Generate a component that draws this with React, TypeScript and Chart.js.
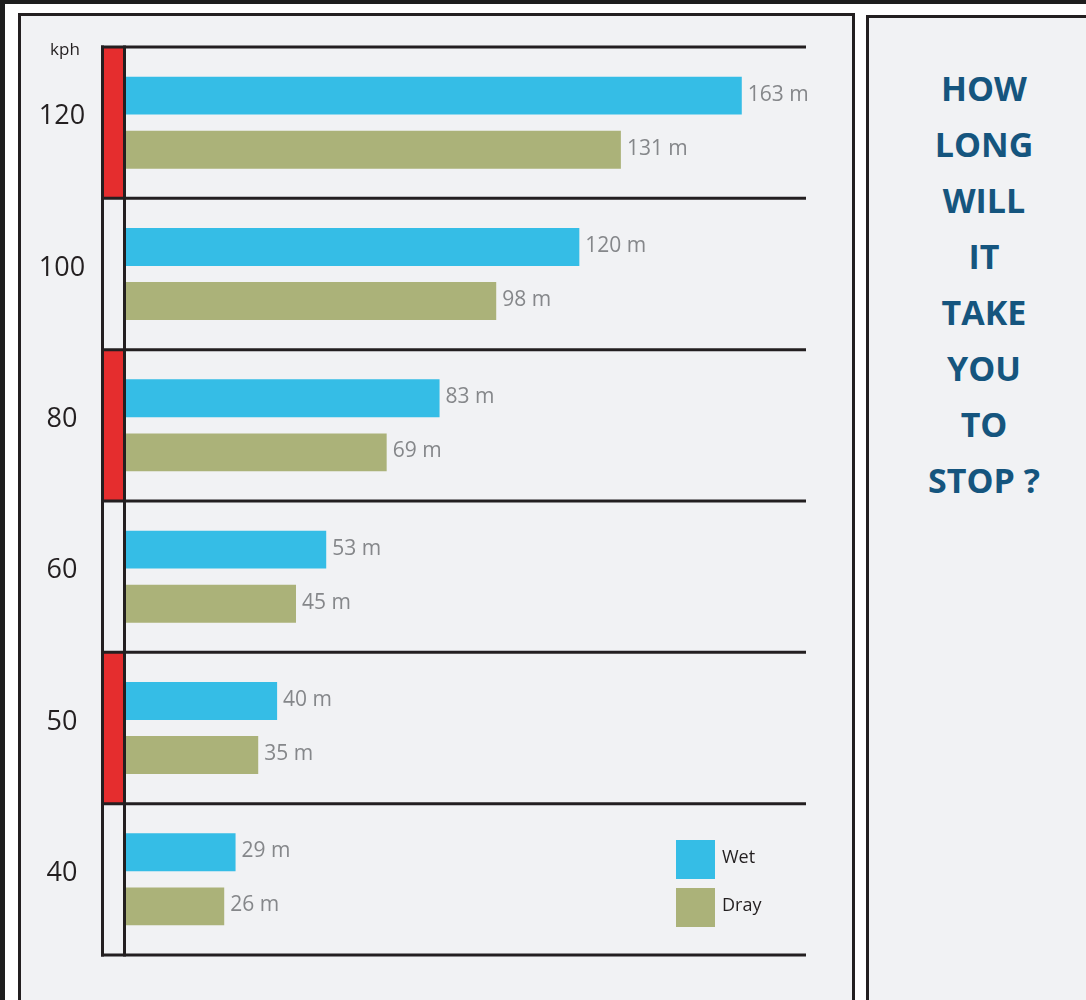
import React, { useEffect, useRef } from "react";
import { Chart, registerables } from "chart.js";

Chart.register(...registerables);

const speeds = ["120", "100", "80", "60", "50", "40"];
const wetDistances = [163, 120, 83, 53, 40, 29];
const dryDistances = [131, 98, 69, 45, 35, 26];
const seriesNames = ["Wet", "Dray"];
const redBands = [true, false, true, false, true, false];
const unitLabel = "kph";
const titleWords = ["HOW", "LONG", "WILL", "IT", "TAKE", "YOU", "TO", "STOP ?"];

const INK = "#231f20";
const WET = "#35bde6";
const DRY = "#abb279";
const RED = "#e52d2e";
const GREY = "#85878a";
const PANEL = "#f1f2f4";
const FONT = "'Open Sans', 'Noto Sans', sans-serif";

const decorPlugin = {
  id: "decor",
  beforeDatasetsDraw(chart: any) {
    const { ctx, chartArea } = chart;
    const y = chart.scales.y;
    const n = speeds.length;
    const colL = 101;
    const colR = chartArea.left;
    ctx.save();
    for (let i = 0; i < n; i++) {
      const c = y.getPixelForValue(i);
      const half = (chartArea.bottom - chartArea.top) / n / 2;
      ctx.fillStyle = redBands[i] ? RED : PANEL;
      ctx.fillRect(colL + 1, c - half, colR - colL - 2, half * 2);
    }
    ctx.strokeStyle = INK;
    ctx.lineWidth = 3;
    for (let i = 0; i <= n; i++) {
      const py = chartArea.top + ((chartArea.bottom - chartArea.top) * i) / n;
      ctx.beginPath();
      ctx.moveTo(colL, py);
      ctx.lineTo(chartArea.right, py);
      ctx.stroke();
    }
    ctx.beginPath();
    ctx.moveTo(colL + 1.5, chartArea.top - 1.5);
    ctx.lineTo(colL + 1.5, chartArea.bottom + 1.5);
    ctx.moveTo(colR - 1.5, chartArea.top - 1.5);
    ctx.lineTo(colR - 1.5, chartArea.bottom + 1.5);
    ctx.stroke();
    ctx.fillStyle = INK;
    ctx.textAlign = "center";
    ctx.textBaseline = "middle";
    ctx.font = `400 27px ${FONT}`;
    for (let i = 0; i < n; i++) {
      ctx.fillText(speeds[i], 62, y.getPixelForValue(i) - 6);
    }
    ctx.font = `400 17px ${FONT}`;
    ctx.fillText(unitLabel, 65, 50);
    ctx.restore();
  },
  afterDatasetsDraw(chart: any) {
    const { ctx } = chart;
    ctx.save();
    ctx.font = `400 21px ${FONT}`;
    ctx.fillStyle = GREY;
    ctx.textAlign = "left";
    ctx.textBaseline = "middle";
    chart.data.datasets.forEach((ds: any, di: number) => {
      const meta = chart.getDatasetMeta(di);
      meta.data.forEach((el: any, i: number) => {
        ctx.fillText(`${ds.data[i]} m`, el.x + 6, el.y - 1);
      });
    });
    chart.data.datasets.forEach((ds: any, di: number) => {
      const top = 840 + di * 48;
      ctx.fillStyle = ds.backgroundColor;
      ctx.fillRect(676, top, 39, 39);
      ctx.fillStyle = INK;
      ctx.font = `400 18px ${FONT}`;
      ctx.fillText(ds.label, 722, top + 18);
    });
    ctx.restore();
  },
};

function StoppingChart() {
  const ref = useRef<HTMLCanvasElement | null>(null);
  useEffect(() => {
    if (!ref.current) return;
    const chart = new Chart(ref.current, {
      type: "bar",
      data: {
        labels: speeds,
        datasets: [
          { label: seriesNames[0], data: wetDistances, backgroundColor: WET, borderWidth: 0 },
          { label: seriesNames[1], data: dryDistances, backgroundColor: DRY, borderWidth: 0 },
        ],
      },
      options: {
        indexAxis: "y",
        animation: false,
        responsive: false,
        maintainAspectRatio: false,
        devicePixelRatio: 1,
        categoryPercentage: 0.715,
        barPercentage: 0.7,
        layout: { padding: { left: 126, right: 54, top: 47, bottom: 45 } },
        scales: {
          x: { display: false, min: 0, max: 180 },
          y: { display: false },
        },
        plugins: { legend: { display: false }, tooltip: { enabled: false }, title: { display: false } },
      },
      plugins: [decorPlugin],
    } as any);
    return () => chart.destroy();
  }, []);
  return (
    <canvas
      ref={ref}
      width={860}
      height={1000}
      style={{ position: "absolute", left: 0, top: 0, width: 860, height: 1000 }}
    />
  );
}

export default function App() {
  return (
    <div
      style={{
        position: "absolute",
        left: 0,
        top: 0,
        width: 1086,
        height: 1000,
        overflow: "hidden",
        background: "#1e1e1e",
      }}
    >
      <div style={{ position: "absolute", left: 5, top: 4, width: 1100, height: 1010, background: "#ffffff" }} />
      <div
        style={{
          position: "absolute",
          left: 18,
          top: 13,
          width: 831,
          height: 990,
          background: PANEL,
          border: `3px solid ${INK}`,
        }}
      />
      <div
        style={{
          position: "absolute",
          left: 866,
          top: 15,
          width: 240,
          height: 990,
          background: PANEL,
          border: `3px solid ${INK}`,
        }}
      >
        <div
          style={{
            position: "absolute",
            left: 0,
            top: 0,
            width: 230,
            textAlign: "center",
            fontFamily: FONT,
            fontWeight: 700,
            fontSize: 34,
            color: "#15557e",
            paddingTop: 42,
          }}
        >
          {titleWords.map((w) => (
            <div key={w} style={{ height: 56, lineHeight: "56px" }}>
              {w}
            </div>
          ))}
        </div>
      </div>
      <StoppingChart />
    </div>
  );
}
